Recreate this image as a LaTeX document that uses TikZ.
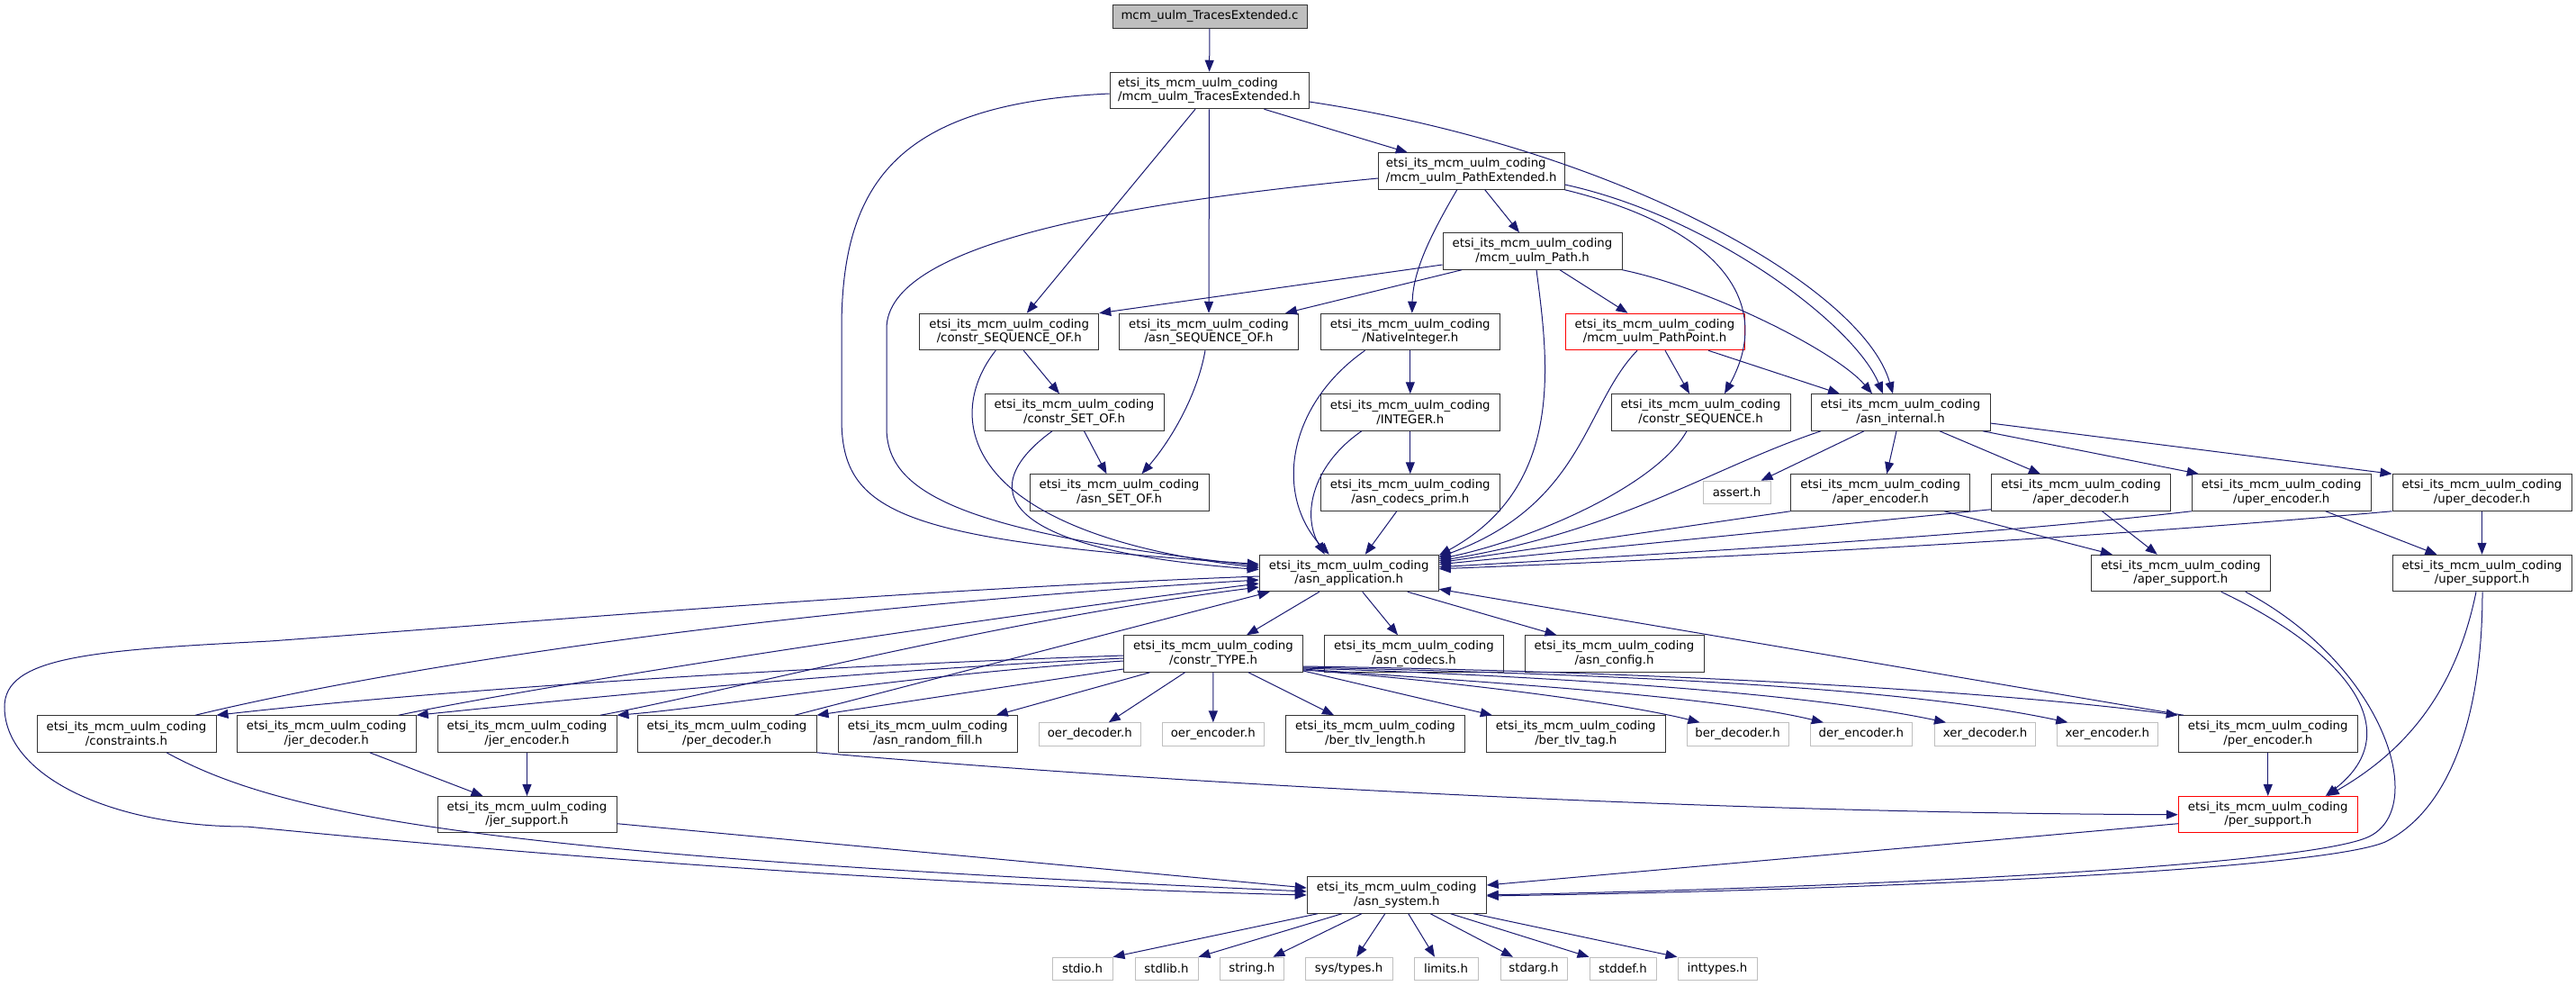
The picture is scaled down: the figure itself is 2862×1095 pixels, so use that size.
\documentclass[tikz,border=0pt]{standalone}
\usepackage{fontspec}
\setmainfont{DejaVu Sans}
\usetikzlibrary{arrows.meta}

\definecolor{edgeblue}{HTML}{191970}
\definecolor{sysgray}{HTML}{BFBFBF}
\newcommand{\doxfont}{\fontsize{13.3}{15.4}\selectfont}
\newcommand{\pkg}{etsi\_its\_mcm\_uulm\_coding}

\tikzset{
	hdr/.style={draw=black!80, fill=white, line width=1pt, minimum width=199pt, minimum height=40.5pt, inner sep=0pt, align=center, font=\doxfont},
	misshdr/.style={hdr, draw=red},
	syshdr/.style={hdr, draw=sysgray, minimum height=25.5pt},
	srcfile/.style={hdr, fill=sysgray, minimum width=216pt, minimum height=25.5pt},
	dep/.style={draw=edgeblue, line width=1pt, -{Triangle[length=13pt,width=10pt]}}
}

\begin{document}
\begin{tikzpicture}[x=1pt,y=-1pt]
\useasboundingbox (0,0) rectangle (2862,1095);

\node[srcfile] (tec) at (1344,18.5) {mcm\_uulm\_TracesExtended.c};
\node[hdr, minimum width=221pt, align=left] (teh) at (1343.5,100.5) {\pkg\\/mcm\_uulm\_TracesExtended.h};
\node[hdr, minimum width=206.5pt, align=left] (peh) at (1634.75,190) {\pkg\\/mcm\_uulm\_PathExtended.h};
\node[hdr] (mpath) at (1702.5,279) {\pkg\\/mcm\_uulm\_Path.h};

\node[hdr] (cso) at (1121.25,368.5) {\pkg\\/constr\_SEQUENCE\_OF.h};
\node[hdr] (aso) at (1343,368.5) {\pkg\\/asn\_SEQUENCE\_OF.h};
\node[hdr] (nint) at (1566.8,368.5) {\pkg\\/NativeInteger.h};
\node[misshdr] (ppt) at (1838.5,368.5) {\pkg\\/mcm\_uulm\_PathPoint.h};

\node[hdr] (cset) at (1193.5,458) {\pkg\\/constr\_SET\_OF.h};
\node[hdr] (intg) at (1566.8,458) {\pkg\\/INTEGER.h};
\node[hdr] (cseq) at (1889.5,458) {\pkg\\/constr\_SEQUENCE.h};
\node[hdr] (aint) at (2111.5,458) {\pkg\\/asn\_internal.h};

\node[hdr] (aset) at (1243.5,547) {\pkg\\/asn\_SET\_OF.h};
\node[hdr] (prim) at (1566.8,547) {\pkg\\/asn\_codecs\_prim.h};
\node[syshdr, minimum width=75pt] (assrt) at (1929.5,547) {assert.h};
\node[hdr] (apenc) at (2089.25,547) {\pkg\\/aper\_encoder.h};
\node[hdr] (apdec) at (2312,547) {\pkg\\/aper\_decoder.h};
\node[hdr] (upenc) at (2534.75,547) {\pkg\\/uper\_encoder.h};
\node[hdr] (updec) at (2757.5,547) {\pkg\\/uper\_decoder.h};

\node[hdr] (app) at (1498.75,636.5) {\pkg\\/asn\_application.h};
\node[hdr] (apsup) at (2422.8,636.5) {\pkg\\/aper\_support.h};
\node[hdr] (upsup) at (2757.5,636.5) {\pkg\\/uper\_support.h};

\node[hdr] (ctype) at (1348,726) {\pkg\\/constr\_TYPE.h};
\node[hdr] (codecs) at (1571,726) {\pkg\\/asn\_codecs.h};
\node[hdr] (config) at (1793.5,726) {\pkg\\/asn\_config.h};

\node[hdr] (cons) at (140.5,815) {\pkg\\/constraints.h};
\node[hdr] (jdec) at (362.75,815) {\pkg\\/jer\_decoder.h};
\node[hdr] (jenc) at (585.5,815) {\pkg\\/jer\_encoder.h};
\node[hdr] (pdec) at (807.5,815) {\pkg\\/per\_decoder.h};
\node[hdr] (rfill) at (1030.75,815) {\pkg\\/asn\_random\_fill.h};
\node[syshdr, minimum width=113.6pt] (odec) at (1210.8,815.5) {oer\_decoder.h};
\node[syshdr, minimum width=113.6pt] (oenc) at (1347.8,815.5) {oer\_encoder.h};
\node[hdr] (tlvl) at (1528,815) {\pkg\\/ber\_tlv\_length.h};
\node[hdr] (tlvt) at (1750.8,815) {\pkg\\/ber\_tlv\_tag.h};
\node[syshdr, minimum width=113pt] (bdec) at (1930.5,815.5) {ber\_decoder.h};
\node[syshdr, minimum width=113.6pt] (denc) at (2067.8,815.5) {der\_encoder.h};
\node[syshdr, minimum width=111.8pt] (xdec) at (2205.6,815.5) {xer\_decoder.h};
\node[syshdr, minimum width=112.6pt] (xenc) at (2341.3,815.5) {xer\_encoder.h};
\node[hdr] (penc) at (2519.75,815) {\pkg\\/per\_encoder.h};

\node[hdr] (jsup) at (585.5,904.7) {\pkg\\/jer\_support.h};
\node[misshdr] (psup) at (2519.75,904.7) {\pkg\\/per\_support.h};

\node[hdr] (asys) at (1551.75,994) {\pkg\\/asn\_system.h};

\node[syshdr, minimum width=67pt] (stdio) at (1202.5,1076) {stdio.h};
\node[syshdr, minimum width=70pt] (stdlib) at (1296,1076) {stdlib.h};
\node[syshdr, minimum width=71.5pt] (string) at (1390.75,1076) {string.h};
\node[syshdr, minimum width=97pt] (systypes) at (1498.5,1076) {sys/types.h};
\node[syshdr, minimum width=71pt] (limits) at (1606.5,1076) {limits.h};
\node[syshdr, minimum width=74pt] (stdarg) at (1704,1076) {stdarg.h};
\node[syshdr, minimum width=74pt] (stddef) at (1803,1076) {stddef.h};
\node[syshdr, minimum width=88pt] (inttypes) at (1908,1076) {inttypes.h};

\draw[dep] (tec) -- (teh);

\draw[dep] ([xshift=61]teh.south) -- ([xshift=-71]peh.north);
\draw[dep] ([yshift=-12.5]teh.east) .. controls (1800,165) and (2070,320) .. ([xshift=-8.5]aint.north);
\draw[dep] ([xshift=-15.5]teh.south) -- ([xshift=19.5]cso.north);
\draw[dep] (teh) -- (aso);
\draw[dep] ([yshift=-3.5]teh.west) .. controls (1000,115) and (935,200) .. (935,365) -- (935,465) .. controls (935,570) and (1000,600) .. ([yshift=10]app.west);

\draw[dep] ([xshift=15]peh.south) -- ([xshift=-14.5]mpath.north);
\draw[dep] ([xshift=-16]peh.south) .. controls (1590,260) and (1570,300) .. ([xshift=2]nint.north);
\draw[dep] ([yshift=-8]peh.west) .. controls (1250,225) and (985,270) .. (985,365) -- (985,475) .. controls (985,545) and (1060,590) .. ([yshift=8]app.west);
\draw[dep] (peh.south east) .. controls (1900,250) and (1975,330) .. ([xshift=26.5]cseq.north);
\draw[dep] ([yshift=-15]peh.east) .. controls (1900,240) and (2060,360) .. ([xshift=-19.5]aint.north);

\draw[dep] ([yshift=-15]mpath.west) -- (cso.north east);
\draw[dep] ([xshift=-78.5]mpath.south) -- ([xshift=85]aso.north);
\draw[dep] ([xshift=30.5]mpath.south) -- ([xshift=-30]ppt.north);
\draw[dep] (mpath.south east) .. controls (1900,320) and (2040,390) .. ([xshift=-31.5]aint.north);
\draw[dep] ([xshift=4.5]mpath.south) .. controls (1720,400) and (1740,540) .. ([yshift=-1]app.north east);

\draw[dep] ([xshift=11.5]ppt.south) -- ([xshift=-12.5]cseq.north);
\draw[dep] ([xshift=59.5]ppt.south) -- ([xshift=-67.5]aint.north);
\draw[dep] ([xshift=-19.5]ppt.south) .. controls (1760,450) and (1760,560) .. ([yshift=-3]app.north east);

\draw[dep] ([xshift=16]cso.south) -- ([xshift=-16.5]cset.north);
\draw[dep] ([xshift=-15]cso.south) .. controls (1050,460) and (1060,590) .. ([yshift=6]app.west);
\draw[dep] ([xshift=-4]aso.south) .. controls (1330,440) and (1300,490) .. ([xshift=25]aset.north);
\draw[dep] ([xshift=11]cset.south) -- ([xshift=-14]aset.north);
\draw[dep] ([xshift=-24.5]cset.south) .. controls (1085,540) and (1100,610) .. ([yshift=4]app.west);

\draw[dep] (nint) -- (intg);
\draw[dep] ([xshift=-50.3]nint.south) .. controls (1430,450) and (1415,550) .. ([xshift=-22]app.north);
\draw[dep] (intg) -- (prim);
\draw[dep] ([xshift=-54]intg.south) .. controls (1460,515) and (1445,570) .. ([xshift=-27]app.north);
\draw[dep] ([xshift=-15]prim.south) -- ([xshift=18]app.north);

\draw[dep] ([xshift=-15.5]cseq.south) .. controls (1840,540) and (1700,600) .. ([yshift=-5]app.north east);
\draw[dep] ([xshift=-88.5]aint.south) .. controls (1900,520) and (1800,590) .. ([yshift=-7]app.north east);
\draw[dep] ([xshift=-40.5]aint.south) -- ([xshift=27]assrt.north);
\draw[dep] ([xshift=-4.5]aint.south) -- ([xshift=7]apenc.north);
\draw[dep] ([xshift=43.5]aint.south) -- ([xshift=-45]apdec.north);
\draw[dep] ([xshift=91.5]aint.south) -- ([xshift=-92]upenc.north);
\draw[dep] ([yshift=-12]aint.east) -- (updec.north west);

\draw[dep] (apenc.south west) -- ([yshift=-9]app.north east);
\draw[dep] ([xshift=71]apenc.south) -- ([xshift=-76]apsup.north);
\draw[dep] ([yshift=2]apdec.south west) -- ([yshift=-11]app.north east);
\draw[dep] ([xshift=23.5]apdec.south) -- ([xshift=-26]apsup.north);
\draw[dep] (upenc.south west) .. controls (2200,595) and (1900,612) .. ([yshift=-14]app.north east);
\draw[dep] ([xshift=49]upenc.south) -- ([xshift=-50]upsup.north);
\draw[dep] (updec.south west) .. controls (2300,600) and (1900,620) .. ([yshift=-16]app.north east);
\draw[dep] (updec) -- (upsup);

\draw[dep] ([xshift=45]apsup.south) .. controls (2600,720) and (2680,810) .. ([xshift=64]psup.north);
\draw[dep] ([xshift=72]apsup.south) .. controls (2650,740) and (2700,900) .. (2630,930) .. controls (2560,960) and (2100,985) .. (asys.east);
\draw[dep] ([xshift=-6.5]upsup.south) .. controls (2730,760) and (2680,830) .. ([xshift=66]psup.north);
\draw[dep] ([xshift=0.5]upsup.south) .. controls (2758,800) and (2720,900) .. (2650,935) .. controls (2580,965) and (2100,988) .. ([yshift=-1]asys.east);
\draw[dep] ([yshift=-10]psup.west) -- ([yshift=11]asys.east);

\draw[dep] ([xshift=-33]app.south) -- ([xshift=37]ctype.north);
\draw[dep] ([xshift=15]app.south) -- ([xshift=-18]codecs.north);
\draw[dep] ([xshift=65]app.south) -- ([xshift=-64]config.north);
\draw[dep] ([yshift=-3.5]app.west) .. controls (1000,655) and (600,690) .. (300,712) .. controls (100,722) and (5,730) .. (5,785) .. controls (5,860) and (120,918) .. (274,918) .. controls (400,930) and (900,980) .. (asys.west);

\draw[dep] ([yshift=-2]ctype.west) .. controls (900,740) and (500,765) .. (cons.north east);
\draw[dep] ([yshift=-5]ctype.west) .. controls (950,745) and (650,775) .. (jdec.north east);
\draw[dep] ([yshift=-8]ctype.west) .. controls (1000,750) and (800,785) .. (jenc.north east);
\draw[dep] ([yshift=-17]ctype.west) -- (pdec.north east);
\draw[dep] ([xshift=-70.4]ctype.south) -- ([xshift=76]rfill.north);
\draw[dep] ([xshift=-31.5]ctype.south) -- ([xshift=21]odec.north);
\draw[dep] (ctype) -- (oenc);
\draw[dep] ([xshift=39]ctype.south) -- ([xshift=-46]tlvl.north);
\draw[dep] ([yshift=-19]ctype.east) -- ([xshift=-93]tlvt.north);
\draw[dep] ([yshift=-18]ctype.east) .. controls (1600,755) and (1800,780) .. ([xshift=-42]bdec.north);
\draw[dep] ([yshift=-17]ctype.east) .. controls (1650,758) and (1900,772) .. ([xshift=-42]denc.north);
\draw[dep] ([yshift=-16]ctype.east) .. controls (1700,750) and (2000,768) .. ([xshift=-43.6]xdec.north);
\draw[dep] ([yshift=-15]ctype.east) .. controls (1750,748) and (2100,760) .. ([xshift=-44]xenc.north);
\draw[dep] ([yshift=-14]ctype.east) .. controls (1800,745) and (2200,765) .. (penc.north west);

\draw[dep] ([xshift=76.5]cons.north) .. controls (400,750) and (800,680) .. ([yshift=-7.5]app.west);
\draw[dep] ([xshift=80]jdec.north) .. controls (607,760) and (1071,689) .. ([yshift=-11.5]app.west);
\draw[dep] ([xshift=81.5]jenc.north) .. controls (800,770) and (1100,690) .. ([yshift=-15.5]app.west);
\draw[dep] ([xshift=75.5]pdec.north) -- ([xshift=12]app.south west);
\draw[dep] ([xshift=6]penc.north west) -- ([yshift=3]app.south east);

\draw[dep] (pdec.south east) .. controls (1300,870) and (1900,903) .. (psup.west);
\draw[dep] (penc) -- (psup);
\draw[dep] ([xshift=48]jdec.south) -- ([xshift=-49]jsup.north);
\draw[dep] (jenc) -- (jsup);
\draw[dep] ([yshift=-10]jsup.east) -- ([yshift=8]asys.west);
\draw[dep] ([xshift=44.5]cons.south) .. controls (320,910) and (560,950) .. ([yshift=4]asys.west);

\draw[dep] ([xshift=-88]asys.south) -- (stdio.north east);
\draw[dep] ([xshift=-61]asys.south) -- (stdlib.north east);
\draw[dep] ([xshift=-39]asys.south) -- ([xshift=23.6]string.north);
\draw[dep] ([xshift=-13]asys.south) -- ([xshift=8.5]systypes.north);
\draw[dep] ([xshift=13]asys.south) -- ([xshift=-12.5]limits.north);
\draw[dep] ([xshift=37.5]asys.south) -- ([xshift=-23]stdarg.north);
\draw[dep] ([xshift=60]asys.south) -- (stddef.north west);
\draw[dep] ([xshift=85.5]asys.south) -- (inttypes.north west);

\end{tikzpicture}
\end{document}
